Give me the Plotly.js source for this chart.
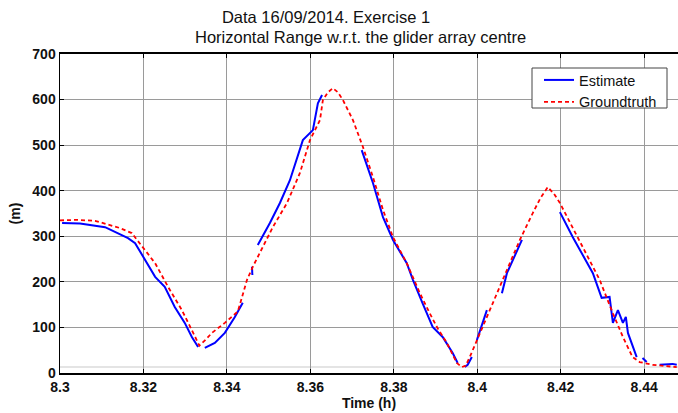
<!DOCTYPE html>
<html>
<head>
<meta charset="utf-8">
<script src="https://cdn.plot.ly/plotly-3.0.1.min.js"></script>
<style>html,body{margin:0;padding:0;background:#fff;}#chart{width:678px;height:413px;}</style>
</head>
<body>
<div id="chart"></div>
<script>
// Groundtruth (red dashed)
const timeGroundtruth = [8.3000, 8.3040, 8.3084, 8.3115, 8.3144, 8.3172, 8.3187, 8.3208, 8.3228, 8.3259, 8.3292, 8.3316, 8.3334, 8.3350, 8.3364, 8.3395, 8.3426, 8.3431, 8.3448, 8.3462, 8.3486, 8.3510, 8.3544, 8.3575, 8.3599, 8.3623, 8.3630, 8.3642, 8.3654, 8.3666, 8.3678, 8.3702, 8.3726, 8.3750, 8.3774, 8.3798, 8.3831, 8.3862, 8.3886, 8.3905, 8.3927, 8.3951, 8.3963, 8.3972, 8.3982, 8.4006, 8.4037, 8.4071, 8.4102, 8.4133, 8.4152, 8.4169, 8.4184, 8.4198, 8.4229, 8.4262, 8.4293, 8.4325, 8.4349, 8.4372, 8.4389, 8.4420, 8.4450, 8.4478];
const rangeGroundtruth = [335, 336, 334, 326, 318, 307, 290, 265, 241, 189, 138, 94, 60, 74, 88, 110, 135, 150, 204, 233, 276, 320, 373, 439, 511, 555, 599, 616, 625, 616, 599, 555, 496, 430, 358, 298, 241, 176, 131, 98, 66, 22, 13, 16, 35, 88, 153, 226, 292, 351, 385, 408, 393, 373, 318, 263, 205, 131, 79, 35, 24, 18, 15, 13];

// Estimate (blue solid), null = gap in the estimate
const timeEstimate = [8.3005, 8.3048, 8.3108, 8.3132, 8.3163, 8.3180, 8.3204, 8.3228, 8.3251, 8.3275, 8.3299, 8.3316, 8.3331, null,
  8.3347, 8.3371, 8.3395, 8.3419, 8.3438, null,
  8.3460, 8.3461, null,
  8.3474, 8.3503, 8.3527, 8.3551, 8.3582, 8.3606, 8.3618, 8.3628, null,
  8.3723, 8.3750, 8.3774, 8.3798, 8.3831, 8.3846, 8.3869, 8.3893, 8.3917, 8.3941, 8.3953, null,
  8.3970, 8.3977, 8.3987, null,
  8.3999, 8.4023, null,
  8.4059, 8.4071, 8.4107, null,
  8.4198, 8.4229, 8.4277, 8.4298, 8.4317, 8.4325, 8.4337, 8.4349, 8.4356, 8.4361, 8.4382, null,
  8.4396, 8.4406, null,
  8.4437, 8.4468, 8.4478];
const rangeEstimate = [329, 328, 320, 309, 296, 285, 248, 211, 189, 145, 110, 79, 57, null,
  55, 66, 88, 123, 154, null,
  233, 215, null,
  281, 329, 373, 423, 511, 533, 592, 610, null,
  489, 417, 342, 292, 241, 204, 153, 101, 79, 44, 22, null,
  13, 18, 35, null,
  72, 138, null,
  175, 219, 292, null,
  353, 298, 219, 165, 167, 110, 138, 110, 123, 88, 35, null,
  33, 24, null,
  18, 20, 18];

const xTicks = [8.3, 8.32, 8.34, 8.36, 8.38, 8.4, 8.42, 8.44];
const xTickLabels = ['8.3', '8.32', '8.34', '8.36', '8.38', '8.4', '8.42', '8.44'];
const yTicks = [0, 100, 200, 300, 400, 500, 600, 700];

const traces = [
  {x: timeEstimate, y: rangeEstimate, name: 'Estimate', type: 'scatter', mode: 'lines',
   line: {color: '#0000ff', width: 2}, connectgaps: false},
  {x: timeGroundtruth, y: rangeGroundtruth, name: 'Groundtruth', type: 'scatter', mode: 'lines',
   line: {color: '#ff0000', width: 1.8, dash: '4px,3px'}}
];

const tickFont = {family: 'Liberation Sans, Arial, sans-serif', size: 14, color: '#111', weight: 'bold'};
const titleFont = {family: 'Liberation Sans, Arial, sans-serif', size: 16.5, color: '#111'};

const layout = {
  width: 678, height: 413,
  margin: {l: 60, r: 0, t: 54, b: 40},
  paper_bgcolor: '#fff', plot_bgcolor: '#fff',
  showlegend: true,
  title: {text: 'Data 16/09/2014. Exercise 1', x: 326/678, xanchor: 'center', xref: 'container',
          y: 1 - 17/413, yanchor: 'middle', yref: 'container', font: titleFont},
  annotations: [
    {text: 'Horizontal Range w.r.t. the glider array centre', xref: 'paper', yref: 'paper',
     x: (360-60)/618, y: 1 + (54-37)/319, xanchor: 'center', yanchor: 'middle', showarrow: false,
     font: titleFont}
  ],
  xaxis: {
    range: [8.3, 8.4481], tickvals: xTicks, ticktext: xTickLabels,
    showgrid: true, gridcolor: '#9a9a9a', gridwidth: 1,
    zeroline: false, showline: true, linecolor: '#000', linewidth: 2, mirror: 'ticks',
    ticks: 'inside', ticklen: 4, tickcolor: '#000',
    tickfont: tickFont,
    title: {text: 'Time (h)', standoff: 4, font: tickFont}
  },
  yaxis: {
    range: [0, 700], tickvals: yTicks,
    showgrid: true, gridcolor: '#9a9a9a', gridwidth: 1,
    zeroline: false, showline: true, linecolor: '#000', linewidth: 1.5, mirror: false,
    ticks: 'inside', ticklen: 4, tickcolor: '#000',
    tickfont: tickFont,
    title: {text: '(m)', standoff: 8, font: tickFont}
  },
  shapes: [
    {type: 'line', xref: 'paper', yref: 'paper', x0: 0, x1: 1, y0: 6/319, y1: 6/319,
     line: {color: '#e4e4e4', width: 2}, layer: 'below'},
    // legend frame
    {type: 'rect', xref: 'paper', yref: 'paper',
     x0: (532-60)/618, x1: (667-60)/618, y0: 1 - (108-54)/319, y1: 1 - (68-54)/319,
     fillcolor: '#fff', line: {color: '#444', width: 1}, layer: 'above'}
  ],
  legend: {
    x: (539-60)/618, xanchor: 'left', y: 1 - (64-54)/319, yanchor: 'top',
    bgcolor: 'rgba(0,0,0,0)', borderwidth: 0,
    font: {family: 'Liberation Sans, Arial, sans-serif', size: 14.5, color: '#111'},
    tracegroupgap: 0
  }
};

Plotly.newPlot('chart', traces, layout, {displayModeBar: false, staticPlot: true});
</script>
</body>
</html>
